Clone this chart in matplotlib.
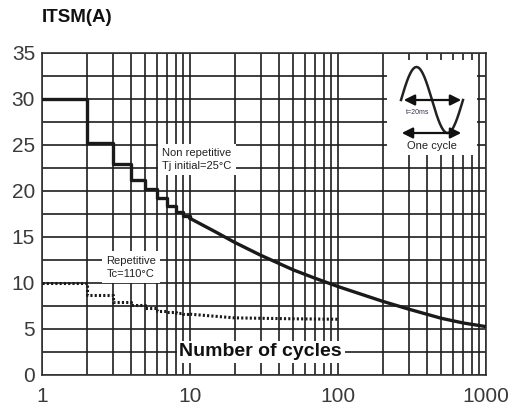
import matplotlib
matplotlib.use("Agg")
import matplotlib.pyplot as plt
import numpy as np
from matplotlib.ticker import FixedLocator, NullFormatter

plt.rcParams['font.family'] = ['Liberation Sans', 'DejaVu Sans']

# Non repetitive, Tj initial = 25°C (steps from 1 to 10 cycles, then smooth)
nonrep_cycles = [1, 2, 3, 4, 5, 6, 7, 8, 9, 10, 15, 20, 30, 50, 70, 100, 200, 300, 500, 700, 1000]
nonrep_itsm = [30.0, 25.2, 22.9, 21.2, 20.2, 19.2, 18.3, 17.7, 17.3, 17.0,
               15.5, 14.4, 13.0, 11.4, 10.5, 9.6, 8.0, 7.15, 6.15, 5.65, 5.25]

# Repetitive, Tc = 110°C
rep_cycles = [1, 2, 3, 4, 5, 6, 7, 8, 9, 10, 20, 50, 100]
rep_itsm = [10.0, 8.7, 7.9, 7.6, 7.25, 7.0, 6.8, 6.7, 6.65, 6.6, 6.2, 6.1, 6.05]

xtick_vals = [1, 10, 100, 1000]
xtick_labels = ["1", "10", "100", "1000"]
ytick_vals = [0, 5, 10, 15, 20, 25, 30, 35]

W, H = 516, 413
fig = plt.figure(figsize=(W / 100, H / 100), dpi=100)
ax = fig.add_axes([42 / W, 38 / H, 444 / W, 322.5 / H])

ax.set_xscale('log')
ax.set_xlim(1, 1000)
ax.set_ylim(0, 35)

ax.xaxis.set_major_locator(FixedLocator(xtick_vals))
ax.set_xticklabels(xtick_labels)
ax.xaxis.set_minor_locator(FixedLocator([m * d for d in (1, 10, 100) for m in range(2, 10)]))
ax.xaxis.set_minor_formatter(NullFormatter())
ax.set_yticks(ytick_vals)
ax.yaxis.set_minor_locator(FixedLocator(np.arange(2.5, 35, 5)))

grid_col = '#1e1e1e'
ax.grid(which='both', color=grid_col, linewidth=1.2)
ax.tick_params(which='both', length=0, labelsize=15, labelcolor='#3a3a3a')
ax.tick_params(axis='x', pad=9)
ax.tick_params(axis='y', pad=5)
for s in ax.spines.values():
    s.set_color('#333333')
    s.set_linewidth(1.2)

# curves
n = 10
ax.step(nonrep_cycles[:n], nonrep_itsm[:n], where='post', color='#1a1a1a', lw=2.4, zorder=4)
ax.plot(nonrep_cycles[n - 1:], nonrep_itsm[n - 1:], color='#1a1a1a', lw=2.4, zorder=4)
ax.step(rep_cycles[:n], rep_itsm[:n], where='post', color='#1a1a1a', lw=2.2,
        linestyle=(0, (0.7, 0.7)), zorder=4)
ax.plot(rep_cycles[n - 1:], rep_itsm[n - 1:], color='#1a1a1a', lw=2.2,
        linestyle=(0, (0.7, 0.7)), zorder=4)

box = dict(facecolor='white', edgecolor='none', pad=3)
ax.text(11.1, 23.4, "Non repetitive\nTj initial=25°C", ha='center', va='center',
        fontsize=8, color='#222222', bbox=box, zorder=5, linespacing=1.4)
ax.text(4.0, 11.7, "Repetitive\nTc=110°C", ha='center', va='center',
        fontsize=8, color='#222222', bbox=box, zorder=5, linespacing=1.4)
ax.text(30, 2.5, "Number of cycles", ha='center', va='center', fontsize=14,
        fontweight='bold', color='#111111',
        bbox=dict(facecolor='white', edgecolor='none', pad=2), zorder=5)

fig.text(42 / W, 1 - 17 / H, "ITSM(A)", ha='left', va='center', fontsize=13.5,
         fontweight='bold', color='#111111')

# one cycle icon
ins = fig.add_axes([387 / W, 1 - 155 / H, 90 / W, 95 / H])
ins.set_xlim(0, 90)
ins.set_ylim(95, 0)
ins.set_facecolor('white')
for s in ins.spines.values():
    s.set_visible(False)
ins.set_xticks([])
ins.set_yticks([])
t = np.linspace(0, 1, 200)
ins.plot(14 + 62 * t, 40 - 33 * np.sin(2 * np.pi * t), color='#222222', lw=1.8)
arrow = dict(arrowstyle='<|-|>', color='#111111', lw=1.6, mutation_scale=16)
ins.annotate("", xy=(14, 40), xytext=(77, 40), arrowprops=arrow)
ins.annotate("", xy=(12, 73), xytext=(77, 73), arrowprops=arrow)
ins.text(31, 53, "t=20ms", fontsize=5, ha='center', va='center', color='#333355')
ins.text(45, 86, "One cycle", fontsize=8, ha='center', va='center', color='#222222')

fig.savefig("out.png", dpi=100)
